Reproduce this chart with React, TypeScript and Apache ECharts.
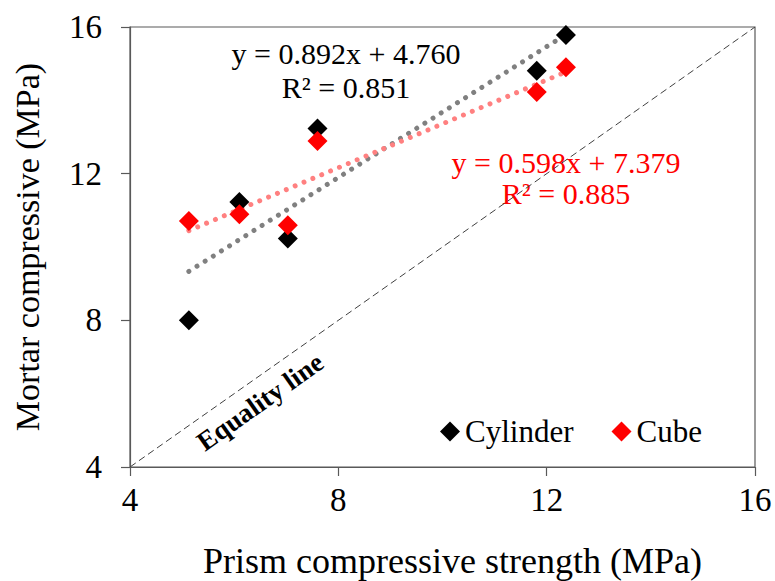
import React, { useEffect, useRef } from "react";
import * as echarts from "echarts";

// Data
const prismStrength = [5.13, 6.1, 7.03, 7.6, 11.81, 12.37];
const cylinderStrength = [8.0, 11.23, 10.23, 13.23, 14.81, 15.78];
const cubeStrength = [10.71, 10.89, 10.59, 12.89, 14.23, 14.9];
const cylinderFit = [0.892, 4.76]; // slope, intercept
const cubeFit = [0.598, 7.379];
const cylinderR2 = "0.851";
const cubeR2 = "0.885";
const axisTicks = [4, 8, 12, 16];

const FONT = "'Liberation Serif', 'Times New Roman', serif";

function fitLine(fit: number[]) {
  const xmin = Math.min(...prismStrength);
  const xmax = Math.max(...prismStrength);
  return [
    [xmin, fit[0] * xmin + fit[1]],
    [xmax, fit[0] * xmax + fit[1]],
  ];
}

export default function App() {
  const ref = useRef<HTMLDivElement>(null);
  useEffect(() => {
    if (!ref.current) return;
    const chart = echarts.init(ref.current, null, { renderer: "svg" });
    const amin = axisTicks[0];
    const amax = axisTicks[axisTicks.length - 1];
    const step = axisTicks[1] - axisTicks[0];
    const axisCommon = {
      type: "value" as const,
      min: amin,
      max: amax,
      interval: step,
      splitLine: { show: false },
      axisLine: { show: true, lineStyle: { color: "#595959", width: 1.2 } },
      axisTick: { show: true, inside: false, length: 9, lineStyle: { color: "#595959", width: 1.2 } },
    };
    chart.setOption({
      animation: false,
      backgroundColor: "#ffffff",
      textStyle: { fontFamily: FONT },
      grid: {
        left: 130,
        right: 20,
        top: 27,
        bottom: 114,
        show: true,
        borderColor: "#595959",
        borderWidth: 1.2,
        backgroundColor: "transparent",
        containLabel: false,
        outerBoundsMode: "none",
      },
      legend: {
        data: [
          { name: "Cylinder", itemStyle: { color: "#000000" } },
          { name: "Cube", itemStyle: { color: "#ff0000" } },
        ],
        icon: "diamond",
        itemWidth: 20,
        itemHeight: 20,
        itemGap: 38,
        left: 440,
        top: 416,
        padding: 0,
        textStyle: { fontFamily: FONT, fontSize: 31, color: "#000" },
      },
      xAxis: {
        ...axisCommon,
        name: "Prism compressive strength (MPa)",
        nameLocation: "middle",
        nameGap: 76,
        nameTextStyle: { fontFamily: FONT, fontSize: 36, color: "#000", padding: [0, 0, 0, 20] },
        axisLabel: { fontFamily: FONT, fontSize: 33, color: "#000", margin: 16 },
      },
      yAxis: {
        ...axisCommon,
        name: "Mortar compressive (MPa)",
        nameLocation: "middle",
        nameGap: 86,
        nameTextStyle: { fontFamily: FONT, fontSize: 34, color: "#000" },
        axisLabel: { fontFamily: FONT, fontSize: 33, color: "#000", margin: 28 },
      },
      series: [
        {
          name: "Equality",
          type: "line",
          data: [
            [amin, amin],
            [amax, amax],
          ],
          symbol: "none",
          silent: true,
          lineStyle: { color: "#404040", width: 1, type: [7, 4] },
          z: 1,
        },
        {
          name: "Cylinder trend",
          type: "line",
          data: fitLine(cylinderFit),
          symbol: "none",
          silent: true,
          lineStyle: { color: "#808080", width: 5, type: [0.01, 9.6], cap: "round" },
          z: 2,
        },
        {
          name: "Cube trend",
          type: "line",
          data: fitLine(cubeFit),
          symbol: "none",
          silent: true,
          lineStyle: { color: "#ff8080", width: 5, type: [0.01, 9.6], cap: "round" },
          z: 2,
        },
        {
          name: "Cylinder",
          type: "scatter",
          symbol: "diamond",
          symbolSize: 20,
          itemStyle: { color: "#000000", opacity: 1 },
          data: prismStrength.map((x, i) => [x, cylinderStrength[i]]),
          z: 3,
        },
        {
          name: "Cube",
          type: "scatter",
          symbol: "diamond",
          symbolSize: 20,
          itemStyle: { color: "#ff0000", opacity: 1 },
          data: prismStrength.map((x, i) => [x, cubeStrength[i]]),
          z: 4,
        },
      ],
      graphic: [
        {
          type: "text",
          x: 346,
          y: 53,
          style: {
            text: `y = ${cylinderFit[0].toFixed(3)}x + ${cylinderFit[1].toFixed(3)}`,
            fontFamily: FONT,
            fontSize: 30,
            fill: "#000",
            align: "center",
            verticalAlign: "middle",
          },
        },
        {
          type: "text",
          x: 346,
          y: 87,
          style: {
            text: `R² = ${cylinderR2}`,
            fontFamily: FONT,
            fontSize: 30,
            fill: "#000",
            align: "center",
            verticalAlign: "middle",
          },
        },
        {
          type: "text",
          x: 566,
          y: 162,
          style: {
            text: `y = ${cubeFit[0].toFixed(3)}x + ${cubeFit[1].toFixed(3)}`,
            fontFamily: FONT,
            fontSize: 30,
            fill: "#ff0000",
            align: "center",
            verticalAlign: "middle",
          },
        },
        {
          type: "text",
          x: 566,
          y: 193,
          style: {
            text: `R² = ${cubeR2}`,
            fontFamily: FONT,
            fontSize: 30,
            fill: "#ff0000",
            align: "center",
            verticalAlign: "middle",
          },
        },
        {
          type: "text",
          x: 260,
          y: 402,
          rotation: (35.3 * Math.PI) / 180,
          style: {
            text: "Equality line",
            fontFamily: FONT,
            fontSize: 27,
            fontWeight: "bold",
            fill: "#000",
            align: "center",
            verticalAlign: "middle",
          },
        },
      ],
    });
    return () => chart.dispose();
  }, []);
  return (
    <div
      ref={ref}
      style={{ position: "absolute", left: 0, top: 0, width: 775, height: 581 }}
    />
  );
}
